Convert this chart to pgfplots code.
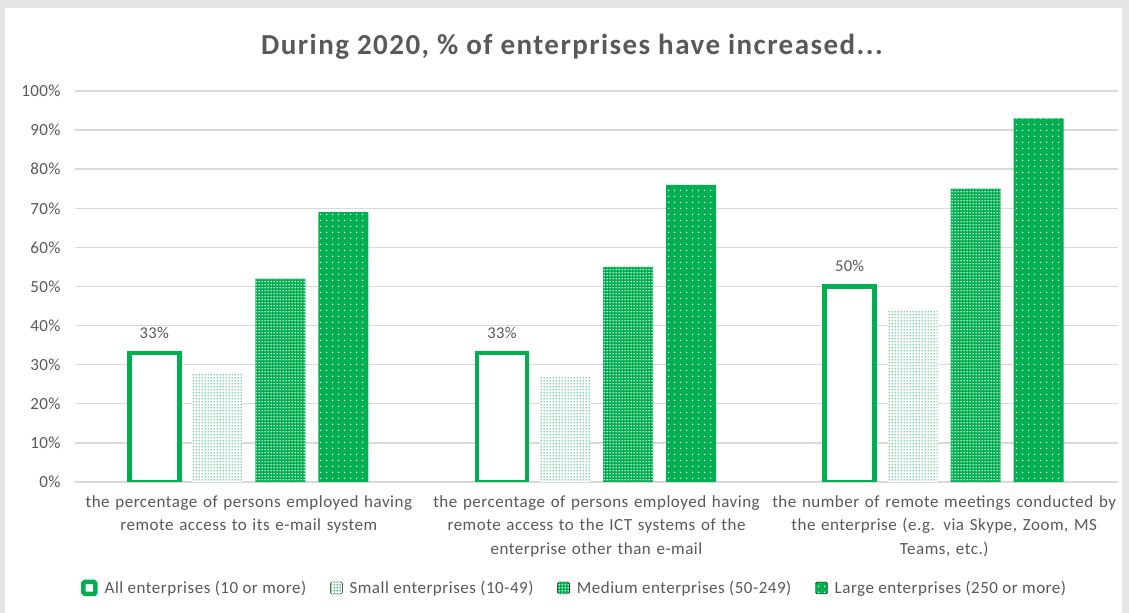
\documentclass[border=0pt]{standalone}
\usepackage{fontspec}
\setmainfont{Carlito}
\usepackage{pgfplots}
\pgfplotsset{compat=1.18}
\usetikzlibrary{patterns.meta}
\definecolor{xlgreen}{HTML}{00B050}
\definecolor{txtgray}{HTML}{595959}
\definecolor{gridgray}{HTML}{D9D9D9}
\definecolor{bordergray}{HTML}{E6E6E6}
\newcommand{\lblfont}{\fontsize{17bp}{23.5bp}\selectfont\addfontfeatures{LetterSpace=3}}
\tikzdeclarepattern{
  name=smalldots, type=uncolored,
  bottom left={(0pt,0pt)}, top right={(3bp,3bp)}, tile size={(3bp,3bp)},
  code={\pgfpathcircle{\pgfpoint{1.5bp}{1.5bp}}{0.95bp}\pgfusepath{fill}}
}
\tikzdeclarepattern{
  name=meddots, type=uncolored,
  bottom left={(0pt,0pt)}, top right={(3bp,3bp)}, tile size={(3bp,3bp)},
  code={\pgfpathcircle{\pgfpoint{1.5bp}{1.5bp}}{1.0bp}\pgfusepath{fill}}
}
\tikzdeclarepattern{
  name=bigdots, type=uncolored,
  bottom left={(0pt,0pt)}, top right={(6bp,6bp)}, tile size={(6bp,6bp)},
  code={\pgfpathcircle{\pgfpoint{3bp}{3bp}}{0.9bp}\pgfusepath{fill}}
}
\begin{document}
\begin{tikzpicture}[x=1bp,y=1bp]
\fill[bordergray] (0,0) rectangle (1129,613);
\fill[white] (5,0) rectangle (1122,605);
\node[font=\fontsize{29bp}{32bp}\selectfont\bfseries\addfontfeatures{LetterSpace=5}, text=txtgray] at (572,566) {During 2020, \% of enterprises have increased...};
\begin{axis}[
  at={(75bp,131bp)}, anchor=south west,
  scale only axis, width=1043bp, height=391bp,
  xmin=-0.5, xmax=2.5, ymin=0, ymax=100,
  enlargelimits=false,
  axis line style={draw=none},
  major tick length=0pt,
  ytick={0,10,...,100},
  yticklabel={\pgfmathprintnumber{\tick}\%},
  /pgf/number format/assume math mode=true,
  yticklabel style={font=\fontsize{17bp}{20bp}\selectfont\addfontfeatures{LetterSpace=2}, text=txtgray, xshift=-11bp},
  ymajorgrids,
  grid style={color=gridgray, line width=1.4bp},
  xtick={0,1,2},
  xticklabels={{the percentage of persons employed having\\remote access to its e-mail system},
    {the percentage of persons employed having\\remote access to the ICT systems of the\\enterprise other than e-mail},
    {the number of remote meetings conducted by\\the enterprise (e.g. via Skype, Zoom, MS\\Teams, etc.)}},
  xticklabel style={font=\lblfont, text=txtgray, text width=370bp, align=center, yshift=-10bp},
  ybar=13bp, bar width=50bp,
  legend style={at={(0.479,-0.271)}, anchor=center, legend columns=4, draw=none,
     font=\fontsize{17bp}{20bp}\selectfont\addfontfeatures{LetterSpace=3}, text=txtgray,
     /tikz/every odd column/.append style={column sep=5bp},
     /tikz/every even column/.append style={column sep=22bp}},
  legend image code/.code={\draw[#1, rounded corners=1.5bp] (0bp,-6bp) rectangle (12bp,6bp);},
]
\addplot[draw=xlgreen, line width=4.5bp, fill=white,
  nodes near coords={\pgfmathprintnumber{\pgfplotspointmeta}\%},
  nodes near coords style={font=\fontsize{16.5bp}{19bp}\selectfont\addfontfeatures{LetterSpace=2}, text=txtgray, anchor=south, yshift=9bp}]
  coordinates {(0,33) (1,33) (2,50)};
\addplot[draw=none, fill=white, postaction={pattern=smalldots, pattern color=xlgreen}]
  coordinates {(0,28) (1,27) (2,44)};
\addplot[draw=none, fill=xlgreen, postaction={pattern=meddots, pattern color=white}]
  coordinates {(0,52) (1,55) (2,75)};
\addplot[draw=none, fill=xlgreen, postaction={pattern=bigdots, pattern color=white}]
  coordinates {(0,69) (1,76) (2,93)};
\legend{All enterprises (10 or more), Small enterprises (10-49), Medium enterprises (50-249), Large enterprises (250 or more)}
\end{axis}
\pgfresetboundingbox
\useasboundingbox (0,0) rectangle (1129,613);
\end{tikzpicture}
\end{document}
